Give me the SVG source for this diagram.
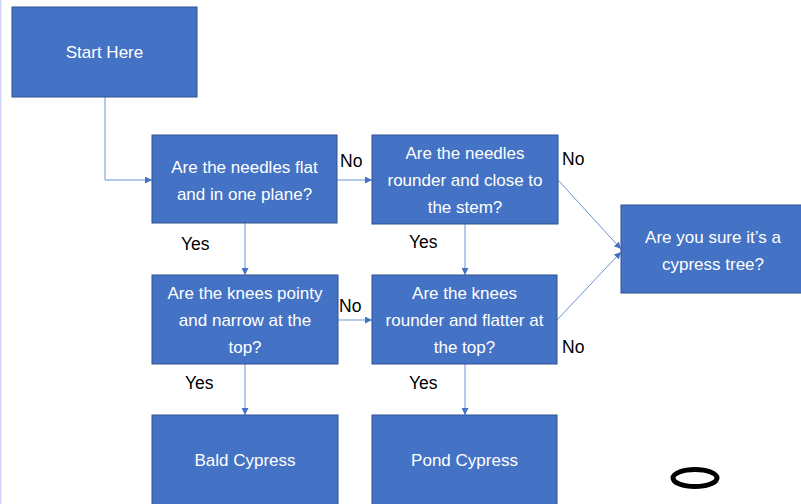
<svg xmlns="http://www.w3.org/2000/svg" width="801" height="504" viewBox="0 0 801 504">
<style>
.box{fill:#4472C4;stroke:#2F528F;stroke-width:1}
.bt{fill:#ffffff;font-family:"Liberation Sans",Arial,sans-serif;font-size:17px;text-anchor:middle}
.lb{fill:#000000;font-family:"Liberation Sans",Arial,sans-serif;font-size:17.5px}
.cn{fill:none;stroke:#6C93D6;stroke-width:1}
</style>
<defs>
<marker id="ah" viewBox="0 0 10 10" refX="10" refY="5" markerWidth="7" markerHeight="7" orient="auto" markerUnits="userSpaceOnUse">
<path d="M0,0 L10,5 L0,10 z" fill="#4472C4"/>
</marker>
</defs>
<rect x="0" y="0" width="801" height="504" fill="#ffffff"/>
<rect x="0" y="0" width="1.5" height="504" fill="#D4D4FF"/>
<g id="connectors">
<path class="cn" d="M105,97 V180 H152" marker-end="url(#ah)"/>
<path class="cn" d="M337,180 H372" marker-end="url(#ah)"/>
<path class="cn" d="M558,180 L621,249" marker-end="url(#ah)"/>
<path class="cn" d="M557,320 L621,252" marker-end="url(#ah)"/>
<path class="cn" d="M245,223 V275" marker-end="url(#ah)"/>
<path class="cn" d="M465,224 V275" marker-end="url(#ah)"/>
<path class="cn" d="M338,320 H372" marker-end="url(#ah)"/>
<path class="cn" d="M245,364 V415" marker-end="url(#ah)"/>
<path class="cn" d="M465,364 V415" marker-end="url(#ah)"/>
<text class="lb" x="340" y="167">No</text>
<text class="lb" x="562" y="165">No</text>
<text class="lb" x="181" y="250">Yes</text>
<text class="lb" x="409" y="248">Yes</text>
<text class="lb" x="339" y="312">No</text>
<text class="lb" x="562" y="353">No</text>
<text class="lb" x="185" y="389">Yes</text>
<text class="lb" x="409" y="389">Yes</text>
</g>
<g id="start">
<rect class="box" x="12" y="7" width="185" height="90"/>
<text class="bt" x="104.5" y="58">Start Here</text>
</g>
<g id="q1">
<rect class="box" x="152" y="135" width="185" height="88"/>
<text class="bt" x="244.5" y="173">Are the needles flat</text>
<text class="bt" x="244.5" y="200">and in one plane?</text>
</g>
<g id="q2">
<rect class="box" x="372" y="135" width="186" height="89"/>
<text class="bt" x="465" y="159">Are the needles</text>
<text class="bt" x="465" y="186">rounder and close to</text>
<text class="bt" x="465" y="213">the stem?</text>
</g>
<g id="q3">
<rect class="box" x="152" y="275" width="186" height="89"/>
<text class="bt" x="245" y="299">Are the knees pointy</text>
<text class="bt" x="245" y="326">and narrow at the</text>
<text class="bt" x="245" y="353">top?</text>
</g>
<g id="q4">
<rect class="box" x="372" y="275" width="185" height="89"/>
<text class="bt" x="464.5" y="299">Are the knees</text>
<text class="bt" x="464.5" y="326">rounder and flatter at</text>
<text class="bt" x="464.5" y="353">the top?</text>
</g>
<g id="sure">
<rect class="box" x="621" y="205" width="185" height="88"/>
<text class="bt" x="713" y="243">Are you sure it’s a</text>
<text class="bt" x="713" y="270">cypress tree?</text>
</g>
<g id="bald">
<rect class="box" x="152" y="415" width="186" height="95"/>
<text class="bt" x="245" y="466">Bald Cypress</text>
</g>
<g id="pond">
<rect class="box" x="372" y="415" width="185" height="95"/>
<text class="bt" x="464.5" y="466">Pond Cypress</text>
</g>
<ellipse cx="695" cy="478" rx="22" ry="8.5" fill="none" stroke="#000000" stroke-width="5"/>
</svg>
